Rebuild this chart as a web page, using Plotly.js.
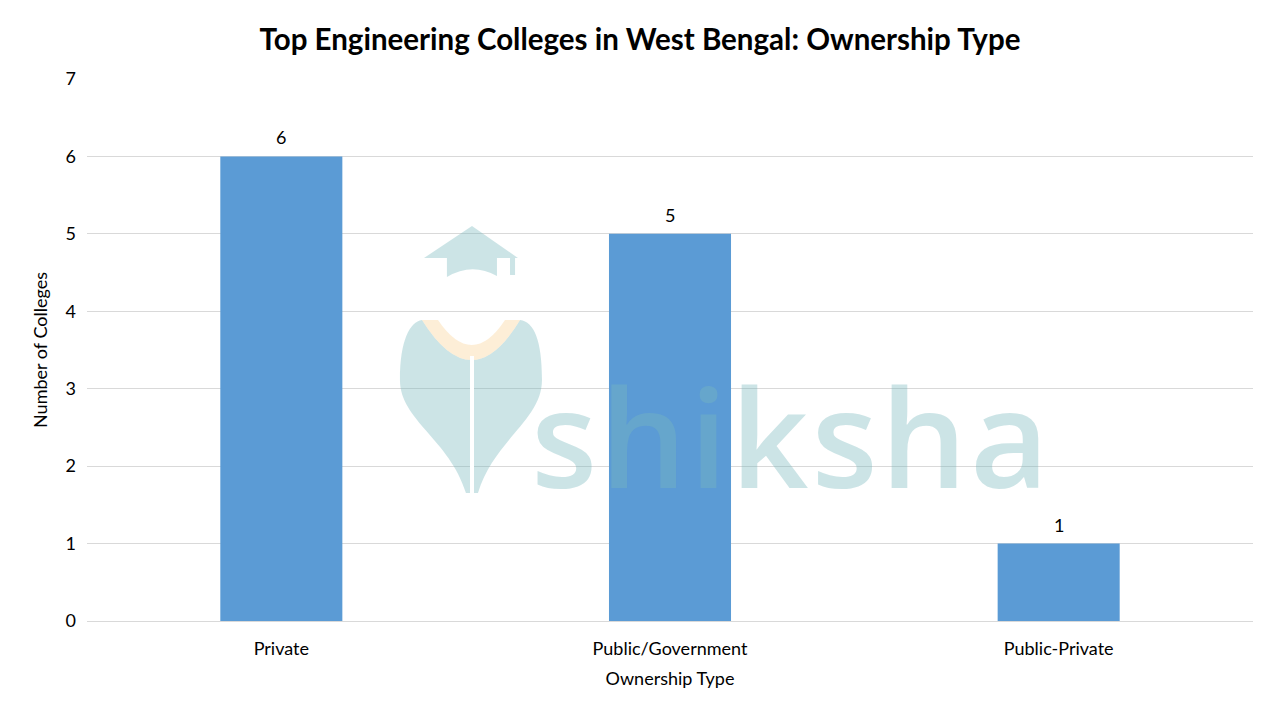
<!DOCTYPE html>
<html>
<head>
<meta charset="utf-8">
<script src="https://cdn.plot.ly/plotly-3.0.1.min.js"></script>
<style>
  html, body { margin: 0; padding: 0; background: #ffffff; }
  #chart { width: 1280px; height: 720px; }
</style>
</head>
<body>
<div id="chart"></div>
<script>
  // chart data
  var ownershipTypes = ["Private", "Public/Government", "Public-Private"];
  var collegeCounts = [6, 5, 1];

  var BAR_COLOR = "#5B9BD5";
  var FONT = "Lato, 'Open Sans', sans-serif";
  var MARK = "rgba(120,185,190,0.38)";

  // plot area in pixels, used only to place the watermark
  var PLOT = { l: 87, r: 1253, t: 79, b: 621 };

  function p(x, y) {
    var px = (x - PLOT.l) / (PLOT.r - PLOT.l);
    var py = (PLOT.b - y) / (PLOT.b - PLOT.t);
    return px.toFixed(4) + "," + py.toFixed(4);
  }

  function wm(path, fill) {
    return {
      type: "path", xref: "paper", yref: "paper", layer: "above",
      path: path, fillcolor: fill, line: { width: 0 }
    };
  }

  // shiksha logo watermark (decoration)
  var shapes = [
    wm("M" + p(424, 258) + " L" + p(472, 226) + " L" + p(518, 258) + " Z", MARK),
    wm("M" + p(447, 258) + " L" + p(447, 277) + " Q" + p(472, 262) + " " + p(497, 276) +
       " L" + p(497, 258) + " Z", MARK),
    wm("M" + p(510, 258) + " L" + p(515, 258) + " L" + p(515, 275) + " L" + p(510, 275) + " Z", MARK),
    wm("M" + p(466, 493) + " C" + p(450, 440) + " " + p(400, 420) + " " + p(400, 380) +
       " C" + p(400, 340) + " " + p(410, 322) + " " + p(422, 320) +
       " Q" + p(472, 400) + " " + p(520, 320) +
       " C" + p(534, 322) + " " + p(542, 340) + " " + p(542, 380) +
       " C" + p(542, 420) + " " + p(494, 440) + " " + p(478, 493) + " Z", MARK),
    wm("M" + p(422, 320) + " Q" + p(472, 400) + " " + p(520, 320) +
       " L" + p(505, 320) + " Q" + p(472, 370) + " " + p(438, 320) + " Z",
       "rgba(250,215,160,0.42)"),
    {
      type: "line", xref: "paper", yref: "paper", layer: "above",
      x0: (472 - PLOT.l) / (PLOT.r - PLOT.l), x1: (472 - PLOT.l) / (PLOT.r - PLOT.l),
      y0: (PLOT.b - 356) / (PLOT.b - PLOT.t), y1: (PLOT.b - 493) / (PLOT.b - PLOT.t),
      line: { color: "#ffffff", width: 4 }
    }
  ];

  var trace = {
    type: "bar",
    x: ownershipTypes,
    y: collegeCounts,
    width: 0.314,
    marker: { color: BAR_COLOR },
    hoverinfo: "x+y"
  };

  // value labels above the bars
  var valueLabels = ownershipTypes.map(function (cat, i) {
    return {
      x: cat, y: collegeCounts[i], xref: "x", yref: "y",
      text: String(collegeCounts[i]), showarrow: false,
      yanchor: "bottom", yshift: 6,
      font: { family: FONT, size: 18, color: "#000000" }
    };
  });

  var watermarkText = {
    xref: "paper", yref: "paper",
    x: (529 - PLOT.l) / (PLOT.r - PLOT.l),
    y: (PLOT.b - 530) / (PLOT.b - PLOT.t),
    xanchor: "left", yanchor: "bottom",
    text: "<span style='letter-spacing:3px'>shiksha</span>", showarrow: false,
    font: { family: "'Open Sans', sans-serif", size: 136, color: MARK, weight: 600 }
  };

  var layout = {
    width: 1280,
    height: 720,
    paper_bgcolor: "#ffffff",
    plot_bgcolor: "#ffffff",
    margin: { l: 87, r: 27, t: 79, b: 99 },
    showlegend: false,
    font: { family: FONT, color: "#000000" },
    title: {
      text: "<b>Top Engineering Colleges in West Bengal: Ownership Type</b>",
      font: { family: FONT, size: 29.5, color: "#000000" },
      x: 0.5, xanchor: "center", y: 0.945, yanchor: "middle"
    },
    xaxis: {
      title: { text: "Ownership Type", font: { family: FONT, size: 18, color: "#000000" }, standoff: 14 },
      tickfont: { family: FONT, size: 18, color: "#000000" },
      ticklabelstandoff: 11,
      showline: true, linecolor: "#d9d9d9", linewidth: 1,
      ticks: "", showgrid: false
    },
    yaxis: {
      title: { text: "Number of Colleges", font: { family: FONT, size: 18, color: "#000000" }, standoff: 13 },
      tickfont: { family: FONT, size: 18, color: "#000000" },
      ticklabelstandoff: 10,
      range: [0, 7], dtick: 1,
      gridcolor: "#d9d9d9", gridwidth: 1,
      zeroline: false, showline: false, ticks: "", ticklen: 0
    },
    shapes: shapes,
    annotations: valueLabels.concat([watermarkText])
  };

  Plotly.newPlot("chart", [trace], layout, { displayModeBar: false, staticPlot: true });
</script>
</body>
</html>
